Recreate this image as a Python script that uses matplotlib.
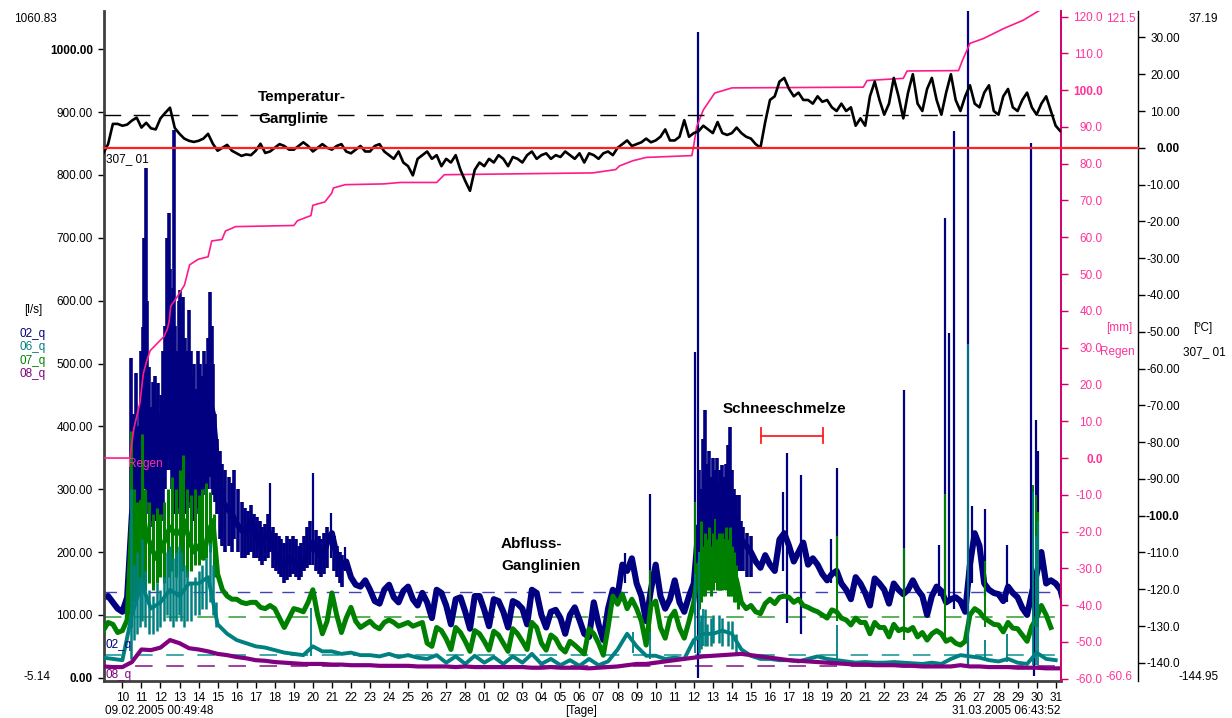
import numpy as np
import matplotlib
matplotlib.use("Agg")
import matplotlib.pyplot as plt
from datetime import datetime, timedelta

plt.rcParams['font.family'] = ['Liberation Sans', 'DejaVu Sans']

# ---------------------------------------------------------------- data
# time axis: days since 09.02.2005 00:00
t_start = 49.8 / 1440.0            # 09.02.2005 00:49:48
t_end = 50 + 403.87 / 1440.0       # 31.03.2005 06:43:52
base_date = datetime(2005, 2, 9)

# discharge [l/s], four samples per day (00, 06, 12, 18 h)
q02 = [
    128, 130, 120, 110,  105, 128, 260, 300,  380, 400, 330, 310,
    340, 360, 420, 440,  430, 450, 400, 380,  370, 400, 450, 420,
    330, 280, 270, 260,  245, 235, 230, 250,  230, 210, 225, 230,
    200, 185, 180, 190,  185, 175, 180, 200,  215, 200, 190, 215,
    230, 195, 175, 185,  160, 148, 145, 155,  140, 122, 118, 140,
    148, 128, 120, 138,  145, 125, 115, 135,  120, 95, 140, 135,
    115, 85, 125, 128,   105, 78, 130, 130,   108, 82, 125, 122,
    105, 80, 122, 118,   110, 85, 140, 135,   100, 80, 105, 108,
    95, 70, 100, 112,    92, 70, 65, 120,     85, 60, 110, 140,
    130, 180, 170, 190,  150, 130, 90, 140,   180, 130, 110, 125,
    155, 120, 105, 130,  150, 240, 230, 220,  230, 240, 250, 260,
    250, 240, 220, 210,  200, 185, 175, 195,  180, 170, 220, 230,
    210, 185, 200, 215,  180, 190, 180, 165,  155, 165, 170, 150,
    140, 125, 160, 150,  135, 115, 158, 150,  140, 118, 150, 140,
    133, 140, 155, 140,  130, 100, 130, 145,  138, 120, 125, 128,
    122, 105, 180, 230,  210, 150, 140, 135,  133, 122, 145, 135,
    128, 111, 100, 135,  165, 200, 150, 155,  150, 140, 110, 110,
]
q07 = [
    75, 88, 85, 72,      75, 92, 250, 200,    280, 230, 210, 190,
    200, 220, 240, 230,  230, 250, 220, 200,  210, 190, 230, 250,
    165, 140, 130, 125,  125, 120, 118, 120,  120, 112, 110, 115,
    110, 95, 80, 95,     110, 108, 105, 120,  140, 100, 70, 90,
    135, 100, 72, 95,    112, 90, 80, 85,     90, 82, 78, 88,
    92, 88, 82, 85,      88, 82, 85, 88,      55, 50, 80, 75,
    62, 45, 80, 72,      58, 42, 75, 70,      58, 44, 74, 68,
    55, 42, 78, 70,      58, 45, 88, 80,      55, 44, 68, 62,
    48, 41, 58, 52,      45, 38, 78, 70,      55, 36, 80, 130,
    117, 133, 110, 125,  110, 90, 52, 115,    122, 80, 63, 95,
    106, 79, 63, 90,     120, 180, 175, 170,  180, 185, 170, 180,
    180, 155, 120, 110,  115, 105, 102, 118,  125, 118, 128, 130,
    128, 120, 125, 115,  112, 108, 105, 100,  95, 108, 105, 95,
    92, 84, 95, 88,      88, 70, 88, 80,      80, 65, 85, 75,
    78, 75, 80, 65,      72, 60, 70, 75,      70, 58, 62, 55,
    52, 58, 100, 110,    105, 95, 90, 85,     84, 73, 88, 79,
    78, 68, 58, 82,      95, 115, 100, 80,    np.nan, np.nan, np.nan, np.nan,
]
# two samples per day (00, 12 h)
q06 = [
    32, 30,  28, 100,  150, 110,  120, 140,  130, 150,  150, 160,
    85, 70,  60, 55,   50, 48,    44, 40,    38, 36,    50, 42,
    42, 38,  40, 36,   36, 34,    38, 33,    36, 32,    30, 36,
    24, 34,  22, 35,   24, 33,    22, 34,    24, 38,    22, 30,
    20, 28,  19, 30,   20, 26,    45, 70,    50, 35,    35, 30,
    32, 30,  60, 70,   70, 75,    70, 45,    35, 30,    30, 28,
    28, 26,  30, 34,   30, 28,    26, 24,    25, 24,    24, 25,
    24, 23,  22, 24,   22, 30,    36, 34,    32, 28,    26, 30,
    24, 22,  40, 30,   28, np.nan,
]
q08 = [
    18, 17,  17, 25,  45, 44,  48, 60,  55, 47,  45, 42,  38, 36,
    33, 31,  28, 27,  25, 24,  23, 22,  22, 22,  21, 21,  20, 20,
    20, 19,  19, 19,  19, 18,  18, 18,  18, 17,  18, 17,  17, 17,
    17, 17,  17, 16,  16, 17,  16, 16,  16, 15,  16, 17,  18, 20,
    22, 22,  24, 26,  28, 30,  32, 34,  35, 36,  37, 38,  36, 34,
    32, 30,  28, 27,  26, 25,  24, 23,  22, 21,  21, 20,  20, 20,
    19, 19,  18, 18,  18, 18,  20, 18,  18, 17,  17, 17,  16, 16,
    16, 15,  15, 15,
]

# periods with rapid fluctuations: (day, low, high) in l/s
band02 = [
    (1.45, 150, 509), (1.55, 200, 420), (1.62, 230, 380), (1.72, 250, 485),
    (1.80, 240, 400), (1.90, 260, 430), (2.00, 280, 520), (2.07, 300, 558),
    (2.15, 320, 700), (2.22, 300, 811), (2.30, 280, 600), (2.40, 260, 495),
    (2.50, 250, 430), (2.60, 240, 470), (2.70, 250, 480), (2.78, 260, 440),
    (2.86, 240, 469), (2.95, 230, 420), (3.05, 250, 450), (3.15, 260, 520),
    (3.25, 300, 560), (3.35, 330, 700), (3.43, 350, 740), (3.50, 330, 650),
    (3.58, 300, 560), (3.65, 320, 620), (3.69, 280, 872), (3.78, 260, 560),
    (3.88, 260, 520), (3.97, 270, 600), (4.05, 280, 617), (4.13, 260, 580),
    (4.20, 250, 606), (4.30, 260, 540), (4.40, 270, 520), (4.49, 280, 585),
    (4.58, 270, 520), (4.67, 260, 480), (4.78, 250, 500), (4.88, 260, 460),
    (4.97, 270, 520), (5.07, 280, 500), (5.17, 290, 480), (5.27, 300, 520),
    (5.37, 290, 500), (5.47, 300, 540), (5.59, 320, 614), (5.68, 300, 560),
    (5.78, 290, 500), (5.88, 280, 420), (5.97, 260, 380), (6.10, 220, 360),
    (6.23, 210, 340), (6.40, 200, 330), (6.59, 210, 320), (6.75, 200, 310),
    (6.86, 220, 330), (7.05, 200, 300), (7.30, 190, 280),
    (7.45, 190, 270), (7.60, 195, 265), (7.75, 200, 275), (7.90, 190, 260),
    (8.05, 190, 255), (8.20, 185, 250), (8.35, 180, 240), (8.50, 185, 245),
    (8.65, 190, 260), (8.90, 175, 240), (9.05, 170, 230), (9.20, 165, 225),
    (9.35, 160, 220), (9.50, 150, 215), (9.65, 155, 225), (9.80, 160, 220),
    (9.95, 165, 225), (10.10, 160, 220), (10.25, 155, 210), (10.40, 160, 215),
    (10.55, 170, 225), (10.70, 175, 240), (10.85, 180, 250), (11.15, 170, 235),
    (11.30, 165, 225), (11.45, 160, 220), (11.60, 165, 230), (11.75, 175, 240),
    (12.10, 170, 225), (12.25, 160, 210), (12.40, 150, 200), (12.55, 145, 195),
    (31.3, 150, 330), (31.4, 160, 300), (31.5, 170, 380), (31.6, 170, 426),
    (31.7, 180, 340), (31.8, 190, 360), (31.9, 180, 320), (32.0, 190, 350),
    (32.1, 180, 330), (32.2, 180, 350), (32.3, 190, 310), (32.4, 180, 330),
    (32.5, 180, 339), (32.6, 190, 320), (32.7, 190, 340), (32.8, 200, 370),
    (32.9, 190, 399), (33.0, 180, 330), (33.1, 180, 300), (33.2, 170, 290),
    (33.3, 170, 260), (33.4, 180, 290), (33.5, 170, 250), (33.6, 170, 240),
    (33.8, 160, 230), (34.0, 160, 225),
]
band07 = [
    (1.47, 80, 393), (1.60, 120, 300), (1.75, 130, 280), (1.90, 140, 260),
    (2.05, 150, 388), (2.20, 140, 300), (2.40, 150, 280), (2.60, 140, 260),
    (2.80, 150, 270), (3.00, 160, 260), (3.20, 150, 280), (3.40, 160, 300),
    (3.60, 170, 320), (3.80, 160, 300), (4.00, 170, 330), (4.20, 170, 355),
    (4.40, 160, 300), (4.60, 170, 290), (4.80, 180, 300), (5.00, 180, 290),
    (5.20, 190, 300), (5.40, 190, 310), (5.60, 200, 296), (5.80, 160, 260),
    (31.3, 110, 200), (31.4, 120, 250), (31.5, 130, 210), (31.6, 130, 230),
    (31.7, 140, 220), (31.8, 140, 240), (31.9, 130, 210), (32.0, 140, 230),
    (32.2, 140, 220), (32.3, 140, 230), (32.4, 140, 210), (32.5, 140, 230),
    (32.7, 140, 240), (32.8, 130, 220), (32.9, 130, 240), (33.0, 130, 210),
    (33.1, 120, 200), (33.2, 120, 180), (33.3, 110, 150),
]
band06 = [
    (1.47, 30, 300), (1.60, 60, 180), (1.75, 70, 200), (1.90, 80, 160),
    (2.05, 90, 220), (2.20, 80, 170), (2.40, 70, 140), (2.60, 70, 130),
    (2.80, 75, 150), (3.00, 80, 140), (3.20, 90, 160), (3.35, 100, 200),
    (3.50, 90, 210), (3.65, 80, 190), (3.80, 90, 200), (3.95, 100, 210),
    (4.10, 90, 200), (4.25, 80, 180), (4.40, 90, 170), (4.60, 90, 150),
    (4.80, 100, 160), (5.00, 100, 170), (5.20, 110, 180), (5.40, 110, 190),
    (5.60, 120, 214), (5.75, 100, 180), (5.90, 80, 120),
    (31.3, 40, 90), (31.4, 45, 100), (31.6, 50, 110), (31.7, 50, 85),
    (31.9, 50, 95), (32.0, 55, 100), (32.3, 55, 100), (32.5, 50, 95),
    (32.8, 50, 90), (33.0, 45, 90), (33.2, 40, 70),
]

# isolated short peaks: (day, low, high) in l/s
peaks02 = [
    (8.75, 200, 310), (11.0, 180, 326), (11.95, 190, 262), (12.7, 170, 208),
    (27.4, 150, 198), (28.7, 100, 293), (31.05, 150, 518), (31.2, 0, 1027),
    (35.71, 170, 296), (35.89, 87, 358), (36.64, 70, 323), (38.2, 150, 220),
    (38.52, 150, 334), (42.06, 130, 458), (43.9, 130, 211), (44.2, 120, 732),
    (44.38, 120, 548), (44.64, 110, 870), (45.38, 20, 1070), (45.6, 150, 274),
    (46.3, 130, 268), (47.46, 120, 211), (48.72, 120, 851), (48.87, 3, 160),
    (48.95, 120, 410), (49.08, 120, 361),
]
peaks07 = [
    (28.7, 60, 171), (31.05, 100, 279), (32.1, 150, 252), (32.6, 140, 220),
    (38.52, 90, 225), (42.06, 60, 206), (44.2, 55, 293), (46.3, 80, 185),
    (48.8, 80, 306), (48.95, 80, 290), (49.08, 80, 263),
]
peaks06 = [
    (10.9, 35, 111), (27.8, 40, 73), (28.7, 30, 73), (31.05, 40, 165),
    (31.25, 40, 200), (31.5, 50, 110), (38.52, 30, 84), (45.38, 20, 531),
    (46.3, 30, 60), (47.46, 25, 70), (48.8, 20, 296), (48.95, 20, 226),
    (49.08, 20, 250),
]

# air temperature [deg C], four samples per day
temp = [
    -1.5, 1, 6.5, 6.5,   6, 6.3, 7.4, 8.2,    5.5, 6.8, 5.3, 5,
    8, 9.5, 10.9, 5.4,   3.8, 2.5, 1.9, 1.6,  1.9, 2.5, 3.8, 1.1,
    -0.8, 0, 0.8, -0.8,  -1.5, -2.2, -1.8, -2, -0.8, 1.1, -1.4, -1,
    0, 1, 0.5, -0.5,     -0.5, 0.5, 1.5, 0.5, -1, 0, 1, 0,
    -0.5, 0.5, 1, -1,    -1.5, -0.5, 0.5, -1, -1, 0.5, 1, -1,
    -2, -3, -1, -4,      -5, -7.5, -3, -2,    -1, -3, -2, -5,
    -3, -4, -2, -6,      -9, -11.7, -6, -4,   -5, -3, -4, -2,
    -3, -5, -2.5, -3,    -4, -2, -1, -3,      -2, -1.5, -3, -2,
    -2.5, -1, -2, -3,    -1.5, -4, -1.5, -2,  -3, -1.5, -1, -2,
    0, 1, 2, 0.5,        1, 1.5, 2.5, 1.5,    2, 3, 5, 2,
    2, 3, 7.5, 3,        4, 4.5, 6, 5,        4, 7, 4, 3.5,
    4, 5.5, 4, 3,        2.5, 1, 0, 7,        13, 14, 18, 19,
    16, 14, 15, 13,      13, 12, 14, 12.5,    13, 11, 10, 12,
    10, 11, 6, 8,        6, 14, 18, 13,       9, 12, 19, 14,
    8, 15, 20, 12,       10, 16, 19, 13,      9, 15, 20, 13,
    10, 14, 17, 12,      11, 15, 17, 10,      9, 14, 16, 11,
    10, 13, 15, 11,      9, 12, 14, 10,       6, 4.5, 4.5, 4.5,
]
temp_ref = 8.8

# cumulative precipitation [mm]
rain_t = [0.0, 1.41, 1.47, 1.60, 1.92, 2.10, 2.28, 2.46, 3.18, 3.36,
          3.45, 3.54, 3.90, 4.26, 4.53, 4.97, 5.50, 5.69, 6.23, 6.41,
          6.95, 10.0, 10.19, 10.9, 11.0, 11.63, 11.99, 12.08, 12.7, 14.7,
          15.6, 17.5, 17.75, 17.9, 25.7, 26.9, 27.1, 27.8, 28.5, 30.9,
          31.0, 31.15, 31.5, 32.1, 33.0, 39.9, 40.1, 42.0, 42.2, 44.9,
          45.1, 45.5, 46.2, 47.3, 48.3, 49.1, 49.6]
rain_v = [0.0, 0.0, 3.0, 8.0, 15.0, 23.0, 26.4, 29.2, 33.0, 35.0,
          37.0, 41.3, 44.0, 47.0, 52.5, 54.0, 54.7, 59.0, 59.4, 61.7,
          62.9, 63.2, 64.5, 65.9, 68.7, 69.6, 72.0, 73.4, 74.3, 74.5,
          74.9, 74.9, 76.2, 77.0, 77.5, 78.4, 79.4, 80.8, 81.7, 82.2,
          85.0, 90.0, 94.6, 99.2, 100.6, 100.8, 102.6, 103.2, 105.2, 105.3,
          108.0, 112.7, 114.0, 116.8, 119.0, 121.5, 123.0]

# reference levels of the discharge series [l/s]
ref_levels = {"02_q": 137, "07_q": 97, "06_q": 37, "08_q": 19}

melt_span = (34.55, 37.78)
melt_level = 385

# ---------------------------------------------------------------- style
W, H = 1232, 718
C02, C06, C07, C08 = "#000080", "#008080", "#008000", "#800080"
CREF = {"02_q": "#4040c0", "07_q": "#5cb05c", "06_q": "#40a8a8", "08_q": "#a040a0"}
PINK = "#ff1a8c"
PINK_T = "#ff3399"

fig = plt.figure(figsize=(W / 100, H / 100), dpi=100)
x0, x1 = 104, 1061
y_top, y_bot = 11, 681
ax = fig.add_axes([x0 / W, 1 - y_bot / H, (x1 - x0) / W, (y_bot - y_top) / H])
ax_r = ax.twinx()
ax_t = ax.twinx()
ax_t.spines["right"].set_position(("axes", (1138 - x0) / (x1 - x0)))


def px(x, y):
    return x / W, 1 - y / H


def draw_bars(axis, rows, color, lw, z):
    t, lo, hi = zip(*rows)
    axis.vlines(t, lo, hi, color=color, lw=lw, zorder=z)


# ---------------------------------------------------------------- discharge
t4 = np.arange(len(q02)) * 0.25
t2 = np.arange(len(q06)) * 0.5

for name, lvl in ref_levels.items():
    ax.axhline(lvl, color=CREF[name], lw=1.0 if name == "02_q" else 1.4,
               ls=(0, (9, 7)), zorder=1.5)

ax.plot(t4, q02, color=C02, lw=4.4, zorder=2, solid_joinstyle="round")
draw_bars(ax, band02, C02, 2.6, 2)
draw_bars(ax, peaks02, C02, 1.6, 2)

ax.plot(t4, q07, color=C07, lw=3.6, zorder=3, solid_joinstyle="round")
draw_bars(ax, band07, C07, 2.2, 3)
draw_bars(ax, peaks07, C07, 1.4, 3)

ax.plot(t2, q06, color=C06, lw=2.8, zorder=4, solid_joinstyle="round")
draw_bars(ax, band06, C06, 1.8, 4)
draw_bars(ax, peaks06, C06, 1.3, 4)

ax.plot(t2[:len(q08)], q08, color=C08, lw=3.0, zorder=5)

ax.set_xlim(t_start, t_end)
ax.set_ylim(-5.14, 1060.83)

# ---------------------------------------------------------------- rain
ax_r.plot(rain_t, rain_v, color=PINK, lw=1.2)
ax_r.set_ylim(-60.6, 121.5)

# ---------------------------------------------------------------- temperature
ax_t.plot(t4, temp, color="black", lw=1.9, solid_joinstyle="round")
ax_t.set_ylim(-144.95, 37.19)
ax_t.axhline(temp_ref, color="black", lw=1.0, ls=(0, (12, 9)))
ax_t.plot([0, (1138 - x0) / (x1 - x0)], [0, 0], color="#ff2020", lw=1.6,
          transform=ax_t.get_yaxis_transform(), clip_on=False, zorder=6)

# melt period marker
ax.plot(melt_span, [melt_level, melt_level], color="#ff2020", lw=1.3)
for xm in melt_span:
    ax.plot([xm, xm], [melt_level - 12, melt_level + 12], color="#ff2020", lw=1.3)

# ---------------------------------------------------------------- axes styling
for a in (ax, ax_r, ax_t):
    a.spines["top"].set_visible(False)
ax.spines["right"].set_visible(False)
ax_r.spines["left"].set_visible(False)
ax_t.spines["left"].set_visible(False)
ax_r.spines["bottom"].set_visible(False)
ax_t.spines["bottom"].set_visible(False)
ax.spines["left"].set_color("#404040")
ax.spines["left"].set_linewidth(2.0)
ax.spines["bottom"].set_color("#404040")
ax.spines["bottom"].set_linewidth(2.0)
ax_r.spines["right"].set_color("#d0006a")
ax_r.spines["right"].set_linewidth(1.4)
ax_t.spines["right"].set_color("black")
ax_t.spines["right"].set_linewidth(1.0)

# x axis: one tick per day
days = np.arange(1, 51)
ax.set_xticks(days)
ax.set_xticklabels([(base_date + timedelta(days=int(d))).strftime("%d") for d in days])
ax.tick_params(axis="x", direction="out", length=5, width=1, labelsize=8.5, pad=3,
               colors="black")

# left axis
yl = np.arange(0, 1001, 100)
ax.set_yticks(yl)
ax.set_yticklabels([f"{v:.2f}" for v in yl])
ax.tick_params(axis="y", direction="out", length=4, width=1, labelsize=8.5, pad=4)
for lab in ax.get_yticklabels():
    if lab.get_text() in ("0.00", "1000.00"):
        lab.set_fontweight("bold")

# rain axis
yr = np.arange(-60, 121, 10)
ax_r.set_yticks(yr)
ax_r.set_yticklabels([f"{v:.1f}" for v in yr])
ax_r.tick_params(axis="y", direction="out", length=5, width=1, labelsize=8.5,
                 pad=25, colors="#d0006a", labelcolor=PINK_T)
for lab in ax_r.get_yticklabels():
    lab.set_horizontalalignment("right")
    if lab.get_text() in ("0.0", "100.0"):
        lab.set_fontweight("bold")

# temperature axis
ytt = np.arange(-140, 31, 10)
ax_t.set_yticks(ytt)
ax_t.set_yticklabels([f"{v:.2f}" if abs(v) < 100 else f"{v:.1f}" for v in ytt])
ax_t.tick_params(axis="y", direction="out", length=5, width=1, labelsize=8.5, pad=25)
for lab in ax_t.get_yticklabels():
    lab.set_horizontalalignment("right")
    if lab.get_text() in ("0.00", "-100.0"):
        lab.set_fontweight("bold")

# ---------------------------------------------------------------- texts
fs = 8.5
fig.text(*px(14, 19), "1060.83", fontsize=fs, va="center")
fig.text(*px(24, 677), "-5.14", fontsize=fs, va="center")
fig.text(*px(24, 310), "[l/s]", fontsize=fs, va="center")
for i, (lab, c) in enumerate([("02_q", C02), ("06_q", C06), ("07_q", C07), ("08_q", C08)]):
    fig.text(*px(19, 334 + 13.4 * i), lab, fontsize=fs, va="center", color=c)

fig.text(*px(1136, 19), "121.5", fontsize=fs, va="center", ha="right", color=PINK_T)
fig.text(*px(1133, 677), "-60.6", fontsize=fs, va="center", ha="right", color=PINK_T)
fig.text(*px(1132, 328), "[mm]", fontsize=fs, va="center", ha="right", color=PINK_T)
fig.text(*px(1135, 352), "Regen", fontsize=fs, va="center", ha="right", color=PINK_T)
fig.text(*px(1218, 19), "37.19", fontsize=fs, va="center", ha="right")
fig.text(*px(1219, 677), "-144.95", fontsize=fs, va="center", ha="right")
fig.text(*px(1193, 328), "[ºC]", fontsize=fs, va="center")
fig.text(*px(1183, 352), "307_ 01", fontsize=fs, va="center")

fig.text(*px(106, 159), "307_ 01", fontsize=fs, va="center")
fig.text(*px(128, 464), "Regen", fontsize=fs, va="center", color=PINK_T)
fig.text(*px(106, 645), "02_q", fontsize=fs, va="center", color=C02)
fig.text(*px(106, 675), "08_q", fontsize=fs, va="center", color=C08)

bold = dict(fontsize=11, fontweight="bold", va="baseline")
fig.text(*px(258, 101), "Temperatur-", **bold)
fig.text(*px(258, 123), "Ganglinie", **bold)
fig.text(*px(501, 548), "Abfluss-", **bold)
fig.text(*px(501, 570), "Ganglinien", **bold)
fig.text(*px(723, 413), "Schneeschmelze", **bold)

fig.text(*px(105, 711), "09.02.2005 00:49:48", fontsize=fs, va="center")
fig.text(*px(1060, 711), "31.03.2005 06:43:52", fontsize=fs, va="center", ha="right")
fig.text(*px(581, 711), "[Tage]", fontsize=fs, va="center", ha="center")

fig.savefig("out.png", dpi=100)
